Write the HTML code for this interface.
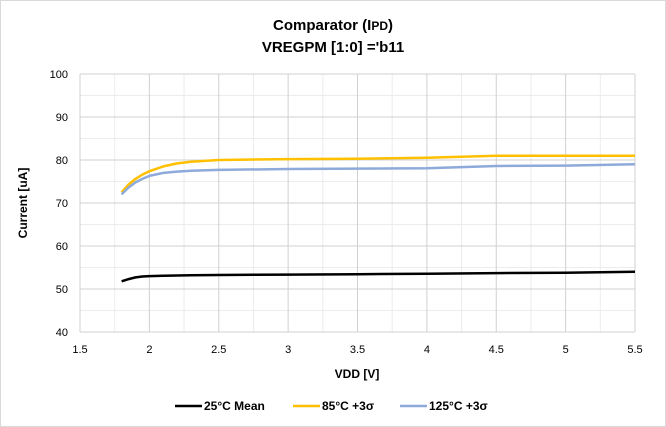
<!DOCTYPE html>
<html><head><meta charset="utf-8"><style>
body{margin:0;background:#fff}
svg{display:block;font-family:"Liberation Sans",sans-serif}
</style></head><body>
<svg width="666" height="427">
<rect x="0.5" y="0.5" width="665" height="426" fill="#fff" stroke="#d9d9d9"/>
<text x="333" y="30" text-anchor="middle" font-size="15" font-weight="bold">Comparator (I<tspan font-size="12">PD</tspan>)</text>
<text x="333" y="52" text-anchor="middle" font-size="15" font-weight="bold">VREGPM [1:0] ='b11</text>
<g id="grid"></g><g id="axes"></g><g id="series"></g>
<text x="357" y="378" text-anchor="middle" font-size="12" font-weight="bold">VDD [V]</text>
<text transform="translate(27,203) rotate(-90)" text-anchor="middle" font-size="12" font-weight="bold">Current [uA]</text>
<g id="legend" font-size="12" font-weight="bold"></g>
</svg>
<script>
const xs=[1.8,1.85,1.9,1.95,2.0,2.1,2.2,2.3,2.5,3.0,3.5,4.0,4.5,5.0,5.5];
const s25=[51.8,52.3,52.7,52.9,53.0,53.1,53.15,53.2,53.25,53.35,53.45,53.55,53.7,53.8,54.0];
const s85=[72.5,74.3,75.6,76.6,77.4,78.5,79.2,79.6,80.0,80.2,80.3,80.5,81.0,81.0,81.0];
const s125=[72.0,73.6,74.8,75.6,76.3,77.0,77.3,77.5,77.7,77.9,78.0,78.1,78.6,78.7,79.0];
const xTicks=[1.5,2,2.5,3,3.5,4,4.5,5,5.5];
const yTicks=[40,50,60,70,80,90,100];
const names=["25°C Mean","85°C +3σ","125°C +3σ"];
const colors=["#000","#ffc000","#8eaadb"];
const X=v=>80+(v-1.5)/4*555, Y=v=>332-(v-40)/60*258;
const NS="http://www.w3.org/2000/svg";
function mk(t,a,p){const e=document.createElementNS(NS,t);for(const k in a)e.setAttribute(k,a[k]);p.appendChild(e);return e;}
const g=document.getElementById('grid'),ax=document.getElementById('axes'),se=document.getElementById('series'),lg=document.getElementById('legend');
for(let v=1.75;v<5.5;v+=0.5){const l=mk('line',{x1:X(v),x2:X(v),y1:Y(40),y2:Y(100),stroke:'#ececec'},g);

}
for(let v=45;v<100;v+=10){const l=mk('line',{x1:X(1.5),x2:X(5.5),y1:Y(v),y2:Y(v),stroke:'#ececec'},g);

}
xTicks.forEach(v=>{const l=mk('line',{x1:X(v),x2:X(v),y1:Y(40),y2:Y(100),stroke:'#d0d0d0'},g);


const t=mk('text',{x:X(v),y:353,'text-anchor':'middle','font-size':11},ax);t.textContent=v;

});
yTicks.forEach(v=>{const l=mk('line',{x1:X(1.5),x2:X(5.5),y1:Y(v),y2:Y(v),stroke:'#d0d0d0'},g);


const t=mk('text',{x:68,y:Y(v)+4,'text-anchor':'end','font-size':11},ax);t.textContent=v;

});
[s25,s85,s125].forEach((s,i)=>{const d=s.map((v,j)=>(j?'L':'M')+X(xs[j]).toFixed(1)+','+Y(v).toFixed(1)).join('');
const p=mk('path',{d:d,fill:'none',stroke:colors[i],'stroke-width':2.5,'stroke-linejoin':'round'},se);

});
const lx=[175,293,400];
names.forEach((n,i)=>{const l=mk('line',{x1:lx[i],x2:lx[i]+27,y1:406,y2:406,stroke:colors[i],'stroke-width':2.5},lg);


const t=mk('text',{x:lx[i]+29,y:410},lg);t.textContent=n;

});
</script>
</body></html>
